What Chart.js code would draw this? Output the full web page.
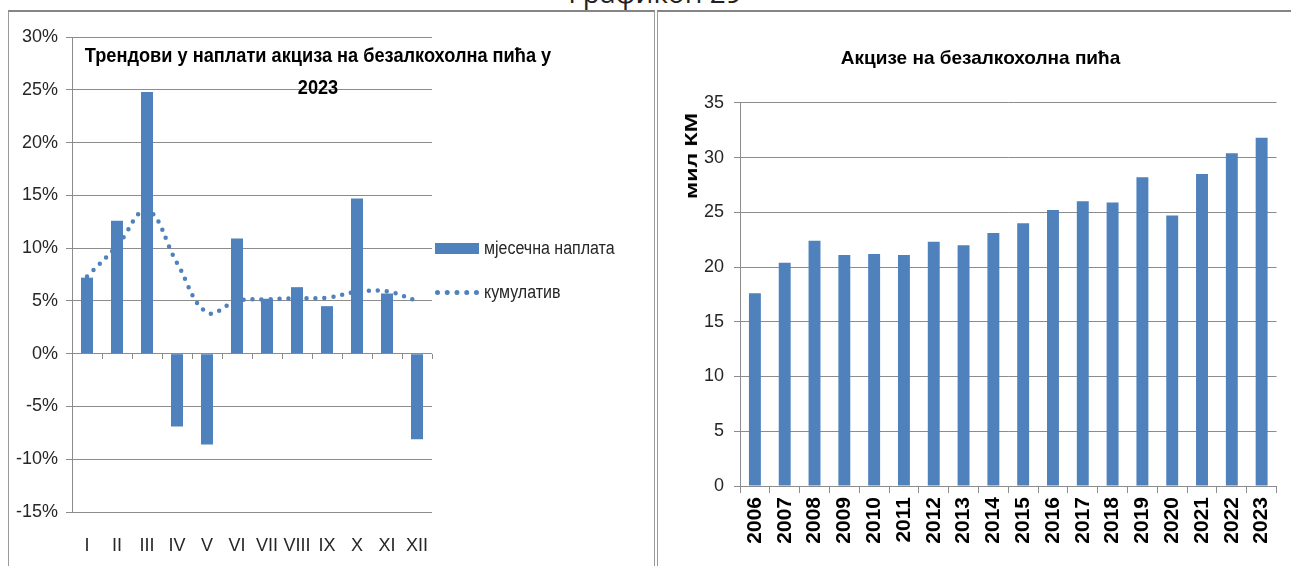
<!DOCTYPE html>
<html>
<head>
<meta charset="utf-8">
<script src="https://cdn.jsdelivr.net/npm/chart.js@4.4.1/dist/chart.umd.min.js"></script>
<style>
  html, body { margin: 0; padding: 0; background: #fff; }
  body {
    width: 1291px; height: 566px; position: relative; overflow: hidden;
    font-family: "Liberation Sans", Arial, sans-serif;
  }
  #caption {
    position: absolute; left: 0; width: 1310px; top: -22px;
    text-align: center; font: 28px/28px "Open Sans", sans-serif; color: #222;
  }
  .frame {
    position: absolute; top: 10px; height: 570px; box-sizing: border-box;
    border: 1px solid #9a9a9a; border-top: 2px solid #858585;
  }
  #frameL { left: 8px; width: 647px; }
  #frameR { left: 657px; width: 660px; }
  .box { position: absolute; }
  #boxL { left: 9px; top: 12px; width: 644px; height: 554px; }
  #boxR { left: 658px; top: 12px; width: 633px; height: 554px; }
  #titleL {
    position: absolute; left: 0; width: 636px; top: 42.5px;
    text-align: center; font-weight: bold; font-size: 18.2px; line-height: 28.5px; color: #000;
    transform: scaleY(1.12);
  }
  #unitR {
    position: absolute; left: 692px; top: 156px; width: 0; height: 0;
  }
  #unitR span {
    position: absolute; left: 0; top: 0; white-space: nowrap;
    font-weight: bold; font-size: 16px; line-height: 16px; color: #000;
    transform: translate(-50%, -50%) rotate(-90deg) scaleX(1.45);
  }
  .item {
    position: absolute; left: 435px; height: 22px;
    display: flex; align-items: center; font-size: 16px; color: #262626;
  }
  .item .txt { display: inline-block; transform: scaleY(1.15); }
  .sw { width: 44px; margin-right: 5px; }
  .sw.bar { height: 11px; background: #4f81bd; }
  .sw.dots { height: 0; border-top: 5px dotted #4f81bd; }
</style>
</head>
<body>

<div id="caption">Графикон 29</div>
<div class="frame" id="frameL"></div>
<div class="frame" id="frameR"></div>

<div class="box" id="boxL"><canvas id="chartL"></canvas></div>
<div class="box" id="boxR"><canvas id="chartR"></canvas></div>

<div id="titleL">Трендови у наплати акциза на безалкохолна пића у<br>2023</div>
<div id="unitR"><span>мил КМ</span></div>

<div class="item" style="top:237px"><span class="sw bar"></span><span class="txt">мјесечна наплата</span></div>
<div class="item" style="top:281px"><span class="sw dots"></span><span class="txt">кумулатив</span></div>

<script>
/* DATA */

const months = ["I", "II", "III", "IV", "V", "VI", "VII", "VIII", "IX", "X", "XI", "XII"];

// monthly change vs previous year, %
const monthly = [7.2, 12.6, 24.8, -6.9, -8.6, 10.9, 5.2, 6.3, 4.5, 14.7, 5.7, -8.1];

// cumulative change, %
const cumulative = [7.3, 10.2, 13.6, 8.6, 3.9, 5.0, 5.15, 5.25, 5.3, 5.85, 5.9, 5.0];

const years = ["2006", "2007", "2008", "2009", "2010", "2011", "2012", "2013", "2014",
  "2015", "2016", "2017", "2018", "2019", "2020", "2021", "2022", "2023"];

// excise on soft drinks, mil KM
const excise = [17.6, 20.4, 22.4, 21.1, 21.2, 21.1, 22.3, 22.0, 23.1,
  24.0, 25.2, 26.0, 25.9, 28.2, 24.7, 28.5, 30.4, 31.8];

/* STYLE */

const BLUE = "#4f81bd";
const GRID = "#8c8c8c";
const TEXT = "#262626";
const FONT = "'Liberation Sans', Arial, sans-serif";

/* LEFT CHART: monthly trend */

new Chart(document.getElementById("chartL"), {
  type: "bar",
  data: {
    labels: months,
    datasets: [
      {
        type: "line",
        label: "кумулатив",
        data: cumulative,
        borderColor: BLUE,
        borderWidth: 4.5,
        borderDash: [0, 9],
        borderCapStyle: "round",
        pointRadius: 0,
        tension: 0.4,
        fill: false,
        order: 0
      },
      {
        label: "мјесечна наплата",
        data: monthly,
        backgroundColor: BLUE,
        categoryPercentage: 1,
        barPercentage: 0.4,
        order: 1
      }
    ]
  },
  options: {
    responsive: true,
    maintainAspectRatio: false,
    animation: false,
    layout: { padding: { top: 25, right: 221, bottom: 0, left: 0 } },
    plugins: {
      legend: { display: false },
      tooltip: { enabled: false }
    },
    scales: {
      x: {
        grid: { display: false, drawTicks: false },
        border: { display: false },
        ticks: {
          autoSkip: false,
          maxRotation: 0,
          font: { family: FONT, size: 18 },
          color: TEXT,
          padding: 23
        },
        afterFit: (s) => { s.height = 54; }
      },
      x2: {
        type: "category",
        position: { y: 0 },
        grid: { offset: true, drawOnChartArea: false, tickLength: 5, color: GRID },
        border: { display: false },
        ticks: { display: false }
      },
      y: {
        min: -15,
        max: 30,
        ticks: {
          stepSize: 5,
          callback: (v) => v + "%",
          font: { family: FONT, size: 18 },
          color: TEXT,
          padding: 8
        },
        grid: { color: GRID, tickLength: 6 },
        border: { color: GRID },
        afterFit: (s) => { s.width = 63; }
      }
    }
  }
});

/* RIGHT CHART: yearly excise */

new Chart(document.getElementById("chartR"), {
  type: "bar",
  data: {
    labels: years,
    datasets: [{
      label: "Акцизе на безалкохолна пића",
      data: excise,
      backgroundColor: BLUE,
      categoryPercentage: 1,
      barPercentage: 0.4
    }]
  },
  options: {
    responsive: true,
    maintainAspectRatio: false,
    animation: false,
    layout: { padding: { top: 0, right: 6, bottom: 0, left: 18 } },
    plugins: {
      legend: { display: false },
      tooltip: { enabled: false },
      title: {
        display: true,
        text: "Акцизе на безалкохолна пића",
        font: { family: FONT, size: 19, weight: "bold" },
        color: "#000",
        padding: { top: 35, bottom: 33 }
      }
    },
    scales: {
      x: {
        grid: { offset: true, drawOnChartArea: false, tickLength: 7, color: GRID },
        border: { color: GRID },
        ticks: {
          autoSkip: false,
          minRotation: 90,
          maxRotation: 90,
          font: { family: FONT, size: 21, weight: "bold" },
          color: "#000",
          padding: 4
        },
        afterFit: (s) => { s.height = 80; }
      },
      y: {
        min: 0,
        max: 35,
        ticks: {
          stepSize: 5,
          font: { family: FONT, size: 18 },
          color: TEXT,
          padding: 10
        },
        grid: { color: GRID, tickLength: 6 },
        border: { color: GRID },
        afterFit: (s) => { s.width = 64; }
      }
    }
  }
});
</script>
</body>
</html>
